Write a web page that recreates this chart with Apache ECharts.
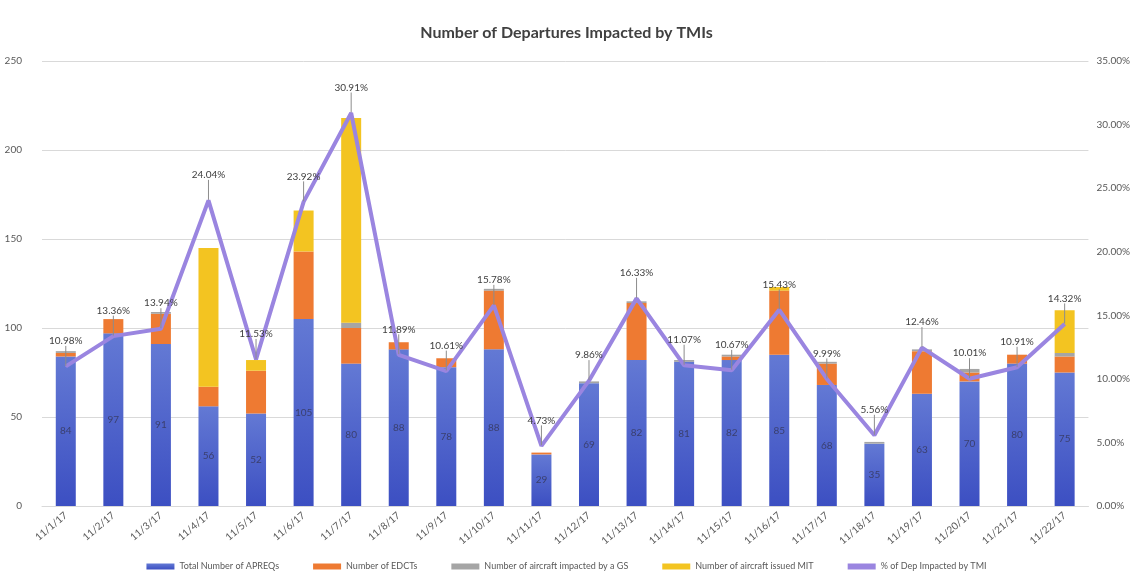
<!DOCTYPE html>
<html>
<head>
<meta charset="utf-8">
<script src="https://cdn.jsdelivr.net/npm/echarts@6/dist/echarts.min.js"></script>
<style>
	html,body{margin:0;padding:0;background:#fff;}
	#main{width:1133px;height:584px;}
</style>
</head>
<body>
<div id="main"></div>
<script>
var dates = ['11/1/17','11/2/17','11/3/17','11/4/17','11/5/17','11/6/17','11/7/17','11/8/17','11/9/17','11/10/17','11/11/17',
	'11/12/17','11/13/17','11/14/17','11/15/17','11/16/17','11/17/17','11/18/17','11/19/17','11/20/17','11/21/17','11/22/17'];
var apreqs = [84,97,91,56,52,105,80,88,78,88,29,69,82,81,82,85,68,35,63,70,80,75];
var edcts = [2,8,17,11,24,38,20,4,5,33,1,0,32,0,2,36,12,0,24,5,5,9];
var gs = [1,0,1,0,0,0,3,0,0,1,0,1,1,1,1,0,1,1,1,2,0,2];
var mit = [0,0,0,78,6,23,115,0,0,0,0,0,0,0,0,2,0,0,0,0,0,24];
var pct = [10.98,13.36,13.94,24.04,11.53,23.92,30.91,11.89,10.61,15.78,4.73,9.86,16.33,11.07,10.67,15.43,9.99,5.56,12.46,10.01,10.91,14.32];

var font = 'Lato, "Open Sans", sans-serif';
var txt = '#595959';

var myChart = echarts.init(document.getElementById('main'));
myChart.setOption({
	animation: false,
	textStyle: {fontFamily: font},
	title: {
		text: 'Number of Departures Impacted by TMIs',
		left: 'center',
		top: 20,
		textStyle: {fontSize: 16, fontWeight: 'bold', color: '#404040', fontFamily: font}
	},
	legend: {
		bottom: 8,
		left: 'center',
		itemWidth: 28,
		itemHeight: 6,
		itemGap: 34,
		textStyle: {fontSize: 9, color: txt},
		data: [
			{name: 'Total Number of APREQs', icon: 'rect'},
			{name: 'Number of EDCTs', icon: 'rect'},
			{name: 'Number of aircraft impacted by a GS', icon: 'rect'},
			{name: 'Number of aircraft issued MIT', icon: 'rect'},
			{name: '% of Dep Impacted by TMI', icon: 'rect'}
		]
	},
	grid: {left: 42, right: 42, top: 61, bottom: 78},
	xAxis: {
		type: 'category',
		data: dates,
		axisTick: {show: false},
		axisLine: {lineStyle: {color: '#d9d9d9'}},
		axisLabel: {rotate: 40, fontSize: 10, color: txt, margin: 8, interval: 0}
	},
	yAxis: [
		{
			type: 'value',
			min: 0, max: 250, interval: 50,
			axisLine: {show: false},
			axisTick: {show: false},
			axisLabel: {fontSize: 10, color: txt, margin: 20},
			splitLine: {lineStyle: {color: '#d9d9d9'}}
		},
		{
			type: 'value',
			min: 0, max: 35, interval: 5,
			axisLine: {show: false},
			axisTick: {show: false},
			splitLine: {show: false},
			axisLabel: {fontSize: 10, color: txt, margin: 8, formatter: function(v){ return v.toFixed(2) + '%'; }}
		}
	],
	series: [
		{
			name: 'Total Number of APREQs',
			type: 'bar',
			stack: 'dep',
			barWidth: 20,
			itemStyle: {
				color: new echarts.graphic.LinearGradient(0, 0, 0, 1, [
					{offset: 0, color: '#6379d4'},
					{offset: 1, color: '#3c4fc2'}
				])
			},
			label: {show: true, position: 'inside', fontSize: 10, color: '#3a3f6e'},
			data: apreqs
		},
		{
			name: 'Number of EDCTs',
			type: 'bar',
			stack: 'dep',
			itemStyle: {color: '#ee7a32'},
			data: edcts
		},
		{
			name: 'Number of aircraft impacted by a GS',
			type: 'bar',
			stack: 'dep',
			itemStyle: {color: '#a5a5a5'},
			data: gs
		},
		{
			name: 'Number of aircraft issued MIT',
			type: 'bar',
			stack: 'dep',
			itemStyle: {color: '#f3c421'},
			data: mit
		},
		{
			name: '% of Dep Impacted by TMI',
			type: 'line',
			yAxisIndex: 1,
			symbol: 'circle',
			symbolSize: 1,
			showSymbol: true,
			lineStyle: {color: '#9a85e0', width: 4},
			itemStyle: {color: '#9a85e0'},
			label: {
				show: true,
				position: 'top',
				distance: 4,
				fontSize: 10,
				color: '#404040',
				formatter: function(p){ return p.value.toFixed(2) + '%'; }
			},
			labelLayout: {dy: -16},
			labelLine: {show: true, lineStyle: {color: '#8c8c8c', width: 1}},
			data: pct
		}
	]
});
</script>
</body>
</html>
